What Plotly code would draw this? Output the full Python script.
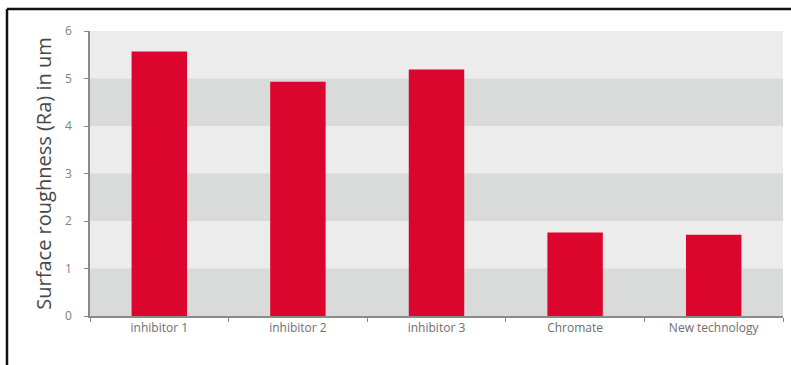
import plotly.graph_objects as go

categories = ["inhibitor 1", "inhibitor 2", "inhibitor 3", "Chromate", "New technology"]
roughness = [5.57, 4.93, 5.19, 1.76, 1.71]
y_ticks = [0, 1, 2, 3, 4, 5, 6]

W, H = 791, 365
L, R, T, B = 90, 8, 31, 49
plot_w = W - L - R
plot_h = H - T - B

fig = go.Figure(
    go.Bar(
        x=categories,
        y=roughness,
        width=0.4,
        marker=dict(color="#dc052d", line=dict(width=0)),
        hoverinfo="x+y",
    )
)

# alternating horizontal bands behind the bars
shapes = []
for lo in range(0, 6, 2):
    shapes.append(dict(type="rect", xref="paper", yref="y", x0=0, x1=1,
                       y0=lo, y1=lo + 1, fillcolor="#d9dada",
                       line=dict(width=0), layer="below"))

# frame lines along the top and left edge
def px_x(px):
    return (px - L) / plot_w

def px_y(py):
    return (H - B - py) / plot_h

shapes.append(dict(type="line", xref="paper", yref="paper",
                   x0=px_x(7), x1=px_x(W + 5), y0=px_y(9), y1=px_y(9),
                   line=dict(color="#111", width=2.5)))
shapes.append(dict(type="line", xref="paper", yref="paper",
                   x0=px_x(7), x1=px_x(7), y0=px_y(9), y1=px_y(H + 5),
                   line=dict(color="#111", width=2.5)))

fig.update_layout(
    width=W, height=H,
    margin=dict(l=L, r=R, t=T, b=B),
    paper_bgcolor="white",
    plot_bgcolor="#ececec",
    font=dict(family="Open Sans", color="#777"),
    showlegend=False,
    bargap=0.6,
    shapes=shapes,
    xaxis=dict(
        showgrid=False,
        showline=True, linecolor="#8a8a8a", linewidth=1.5,
        ticks="outside", ticklen=4, tickcolor="#8a8a8a",
        tickson="boundaries",
        tickfont=dict(size=12, color="#6e6e6e"),
        fixedrange=True,
    ),
    yaxis=dict(
        range=[0, 6],
        tickvals=y_ticks,
        showgrid=False, zeroline=False,
        showline=True, linecolor="#8a8a8a", linewidth=1.5,
        ticks="outside", ticklen=4, tickcolor="#8a8a8a",
        tickfont=dict(size=12, color="#808080"),
        ticklabelstandoff=10,
        title=dict(text="Surface roughness (Ra) in um",
                   font=dict(size=20, color="#474747"), standoff=8),
        fixedrange=True,
    ),
)

fig.write_html("out.html")
